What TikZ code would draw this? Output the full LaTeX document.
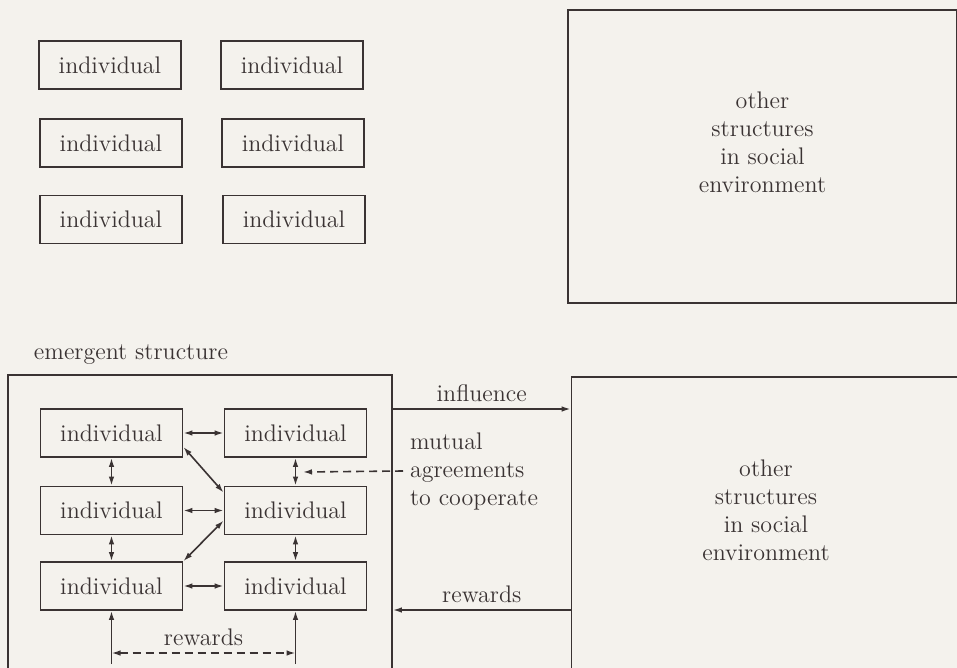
\documentclass[tikz,border=0pt]{standalone}
\usepackage{tikz}
\usetikzlibrary{arrows.meta, positioning, calc}
\definecolor{ink}{HTML}{3A3333}
\definecolor{paper}{HTML}{F4F2ED}

\begin{document}
\begin{tikzpicture}[x=0.5pt, y=-0.5pt,
  every node/.style={font=\large, text=ink},
  indiv/.style={draw=ink, line width=0.9pt, minimum width=71pt, minimum height=24pt, inner sep=0pt},
  envbox/.style={draw=ink, line width=0.9pt, minimum width=194.5pt, minimum height=146.5pt, inner sep=0pt},
  tip/.style={Latex[length=4.5pt,width=2.8pt]},
  arr/.style={-{Latex[length=4.5pt,width=2.8pt]}, draw=ink, line width=0.8pt},
  dbl/.style={{Latex[length=4.5pt,width=2.8pt]}-{Latex[length=4.5pt,width=2.8pt]}, draw=ink, line width=0.8pt},
  darr/.style={arr, dash pattern=on 4pt off 2.5pt}
]
\fill[paper] (0,0) rectangle (957,668);
\useasboundingbox (0,0) rectangle (957,668);

% ----- individuals on their own (top) -----
\node[indiv] (t1) at (110,65)    {individual};
\node[indiv] (t2) at (292,65)    {individual};
\node[indiv] (t3) at (111,143)   {individual};
\node[indiv] (t4) at (293,143)   {individual};
\node[indiv] (t5) at (111,219.5) {individual};
\node[indiv] (t6) at (294,219.5) {individual};

\node[envbox, label={[align=center, yshift=7pt]center:{other\\structures\\in social\\environment}}] (envtop) at (762.5,156.5) {};

% ----- emergent structure (bottom) -----
\node (emtitle) at (131,355) {emergent structure};
\node[draw=ink, line width=0.9pt, minimum width=192pt, minimum height=155pt, inner sep=0pt] (emerg) at (200,530) {};

\node[indiv] (i1) at (111.5,433)   {individual};
\node[indiv] (i2) at (295.5,433)   {individual};
\node[indiv] (i3) at (111.5,510.5) {individual};
\node[indiv] (i4) at (295.5,510.5) {individual};
\node[indiv] (i5) at (111.5,586)   {individual};
\node[indiv] (i6) at (295.5,586)   {individual};

\node[envbox, minimum height=150pt, label={[align=center, yshift=8.5pt]center:{other\\structures\\in social\\environment}}] (envbot) at (766,527) {};

\node[align=left, anchor=west] (agree) at (403,471) {mutual\\agreements\\to cooperate};

% ----- exchanges between individuals -----
\draw[dbl] (i1) -- (i2);
\draw[dbl] (i3) -- (i4);
\draw[dbl] (i5) -- (i6);
\draw[dbl] (i1) -- (i3);
\draw[dbl] (i3) -- (i5);
\draw[dbl] (i2) -- (i4);
\draw[dbl] (i4) -- (i6);
\draw[dbl] (i1.-11) -- (i4.166);
\draw[dbl] (i4.-172) -- (i5.north east);

\coordinate (agrtip) at (303,472);
\draw[darr] (agree.west) -- (agrtip);

% ----- rewards inside -----
\coordinate (rl) at (111.5,664);
\coordinate (rr) at (295.5,664);
\coordinate (rdl) at (111.5,653);
\coordinate (rdr) at (295.5,653);
\draw[arr] (rl) -- (i5);
\draw[arr] (rr) -- (i6);
\draw[dbl, dash pattern=on 4pt off 2.5pt] (rdl) -- (rdr) node[midway, above] (rwin) {rewards};

% ----- with the environment -----
\draw[arr] (emerg.east |- 0,409) -- (envbot.west |- 0,409) node[midway, above] (infl) {influence};
\draw[arr] (envbot.west |- 0,610) -- (emerg.east |- 0,610) node[midway, above] (rwout) {rewards};

\end{tikzpicture}
\end{document}
